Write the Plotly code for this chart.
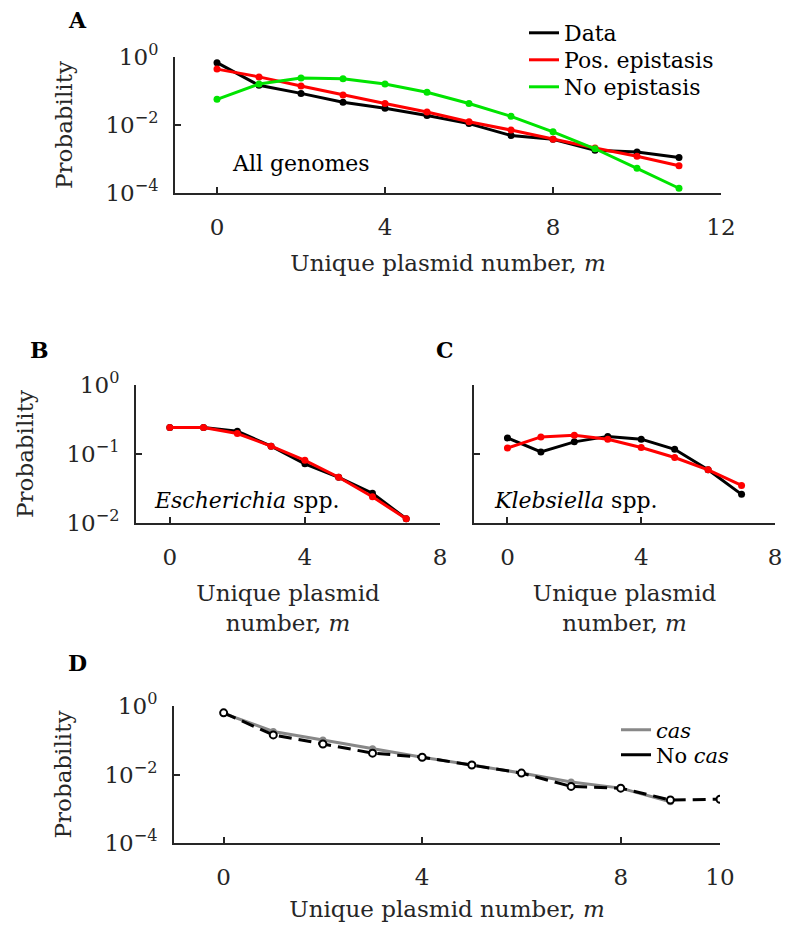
import plotly.graph_objects as go

# ---------------- data ----------------
m_A = list(range(12))
data_A = [0.68, 0.147, 0.085, 0.047, 0.031, 0.019, 0.011, 0.0049, 0.0038, 0.0018, 0.0016, 0.0011]
pos_A = [0.44, 0.26, 0.14, 0.076, 0.043, 0.024, 0.0125, 0.0071, 0.0038, 0.0021, 0.0012, 0.00063]
noepi_A = [0.057, 0.16, 0.24, 0.23, 0.16, 0.092, 0.043, 0.018, 0.0063, 0.002, 0.00053, 0.000138]

m_BC = list(range(8))
data_B = [0.242, 0.242, 0.214, 0.13, 0.072, 0.046, 0.027, 0.0115]
pos_B = [0.242, 0.242, 0.198, 0.13, 0.081, 0.046, 0.024, 0.0115]
data_C = [0.171, 0.107, 0.15, 0.18, 0.164, 0.117, 0.059, 0.026]
pos_C = [0.122, 0.177, 0.187, 0.164, 0.124, 0.089, 0.059, 0.035]

m_cas = list(range(10))
cas_D = [0.61, 0.18, 0.102, 0.056, 0.032, 0.019, 0.011, 0.006, 0.004, 0.0016]
m_nocas = list(range(11))
nocas_D = [0.63, 0.143, 0.078, 0.042, 0.032, 0.019, 0.011, 0.0045, 0.004, 0.0018, 0.0019]

xticks_A = [0, 4, 8, 12]
xticks_BC = [0, 4, 8]
xticks_D = [0, 4, 8, 10]
yticks_A = [1e-4, 1e-2, 1]
yticklabels_A = ["10<sup>−4</sup>", "10<sup>−2</sup>", "10<sup>0</sup>"]
yticks_BC = [1e-2, 1e-1, 1]
yticklabels_BC = ["10<sup>−2</sup>", "10<sup>−1</sup>", "10<sup>0</sup>"]

# ---------------- styling ----------------
OFF = 8  # page body margin of the browser (top/left/bottom/right)
W, H = 790 - OFF, 930 - 2 * OFF
FONT = "DejaVu Serif"
AX = "#262626"
BLACK = "#000000"
RED = "#ff0000"
GREEN = "#00e400"
GRAY = "#888888"
LW = 3
MS = 7


def fx(px):
    return (px - OFF) / W


def fy(py):
    return 1 - (py - OFF) / H


def xaxis(a, b, rng, ticks, anchor, title):
    return dict(domain=[fx(a), fx(b)], range=rng, anchor=anchor, tickmode="array", tickvals=ticks,
                ticktext=[str(t) for t in ticks], ticks="inside", ticklen=6, tickwidth=2,
                tickcolor=AX, showline=True, linecolor=AX, linewidth=2, showgrid=False,
                zeroline=False, ticklabelstandoff=12, automargin=False,
                ticklabeloverflow="allow",
                tickfont=dict(family=FONT, size=23, color=AX),
                title=dict(text=title, font=dict(family=FONT, size=23, color=AX), standoff=16))


def yaxis(top, bottom, rng, ticks, labels, anchor, title, show=True):
    return dict(domain=[fy(bottom), fy(top)], range=rng, type="log", anchor=anchor, tickmode="array",
                tickvals=ticks, ticktext=labels, showticklabels=show, ticks="inside",
                ticklen=6, tickwidth=2, tickcolor=AX, showline=True, linecolor=AX,
                linewidth=2, showgrid=False, zeroline=False, ticklabelstandoff=10,
                automargin=False,
                tickfont=dict(family=FONT, size=23, color=AX),
                title=dict(text=title, font=dict(family=FONT, size=23, color=AX), standoff=26))


def legend_box(xtext, ycenter, size):
    return dict(x=fx(xtext - 41), y=fy(ycenter), xanchor="left", yanchor="middle",
                bgcolor="rgba(0,0,0,0)", borderwidth=0,
                font=dict(family=FONT, size=size, color=BLACK))


fig = go.Figure()


def line(x, y, color, xa, ya, dash="solid", open_marker=False):
    fig.add_trace(go.Scatter(
        x=x, y=y, mode="lines+markers", xaxis=xa, yaxis=ya, showlegend=False,
        line=dict(color=color, width=LW, dash=dash),
        marker=dict(color="white" if open_marker else color, size=MS,
                    line=dict(color=color, width=2 if open_marker else 0)),
        hoverinfo="x+y"))


def legend_entry(name, color, legend, dash="solid"):
    fig.add_trace(go.Scatter(x=[None], y=[None], mode="lines", name=name, legend=legend,
                             line=dict(color=color, width=LW, dash=dash), xaxis="x", yaxis="y"))


# Panel A
line(m_A, data_A, BLACK, "x", "y")
line(m_A, pos_A, RED, "x", "y")
line(m_A, noepi_A, GREEN, "x", "y")
legend_entry("Data", BLACK, "legend")
legend_entry("Pos. epistasis", RED, "legend2")
legend_entry("No epistasis", GREEN, "legend3")

# Panel B
line(m_BC, data_B, BLACK, "x2", "y2")
line(m_BC, pos_B, RED, "x2", "y2")

# Panel C
line(m_BC, data_C, BLACK, "x3", "y3")
line(m_BC, pos_C, RED, "x3", "y3")

# Panel D
line(m_cas, cas_D, GRAY, "x4", "y4")
line(m_nocas, nocas_D, BLACK, "x4", "y4", dash="13px,7px", open_marker=True)
legend_entry("<i>cas</i>", GRAY, "legend4")
legend_entry("No <i>cas</i>", BLACK, "legend5")

xt = "Unique plasmid number, <i>m</i>"
xt2 = "Unique plasmid<br>number, <i>m</i>"

fig.update_layout(
    template="none",
    width=W, height=H, margin=dict(l=0, r=0, t=0, b=0, autoexpand=False),
    paper_bgcolor="white", plot_bgcolor="white",
    font=dict(family=FONT, color=AX),
    xaxis=xaxis(175, 721, [-1, 12], xticks_A, "y", xt),
    yaxis=yaxis(57, 193, [-4, 0], yticks_A, yticklabels_A, "x", "Probability"),
    xaxis2=xaxis(136, 440, [-1, 8], xticks_BC, "y2", xt2),
    yaxis2=yaxis(385, 523, [-2, 0], yticks_BC, yticklabels_BC, "x2", "Probability"),
    xaxis3=xaxis(474, 775, [-1, 8], xticks_BC, "y3", xt2),
    yaxis3=yaxis(385, 523, [-2, 0], yticks_BC, yticklabels_BC, "x3", "", show=False),
    xaxis4=xaxis(174, 720, [-1, 10], xticks_D, "y4", xt),
    yaxis4=yaxis(706, 843, [-4, 0], yticks_A, yticklabels_A, "x4", "Probability"),
    legend=legend_box(565, 33, 22),
    legend2=legend_box(565, 60, 22),
    legend3=legend_box(565, 87, 22),
    legend4=legend_box(657, 730, 21),
    legend5=legend_box(657, 755, 21),
    showlegend=True,
)

ann = [
    dict(text="<b>A</b>", x=66, y=20, xanchor="left"),
    dict(text="<b>B</b>", x=28, y=350, xanchor="left"),
    dict(text="<b>C</b>", x=434, y=350, xanchor="left"),
    dict(text="<b>D</b>", x=66, y=663, xanchor="left"),
    dict(text="All genomes", x=230, y=163, xanchor="left"),
    dict(text="<i>Escherichia</i> spp.", x=152, y=500, xanchor="left"),
    dict(text="<i>Klebsiella</i> spp.", x=492, y=500, xanchor="left"),
]
for a in ann:
    fig.add_annotation(text=a["text"], x=fx(a["x"]), y=fy(a["y"]),
                       xref="paper", yref="paper",
                       xanchor=a["xanchor"], yanchor="middle", showarrow=False,
                       font=dict(family=FONT, size=22, color=BLACK))

fig.write_html("out.html")
